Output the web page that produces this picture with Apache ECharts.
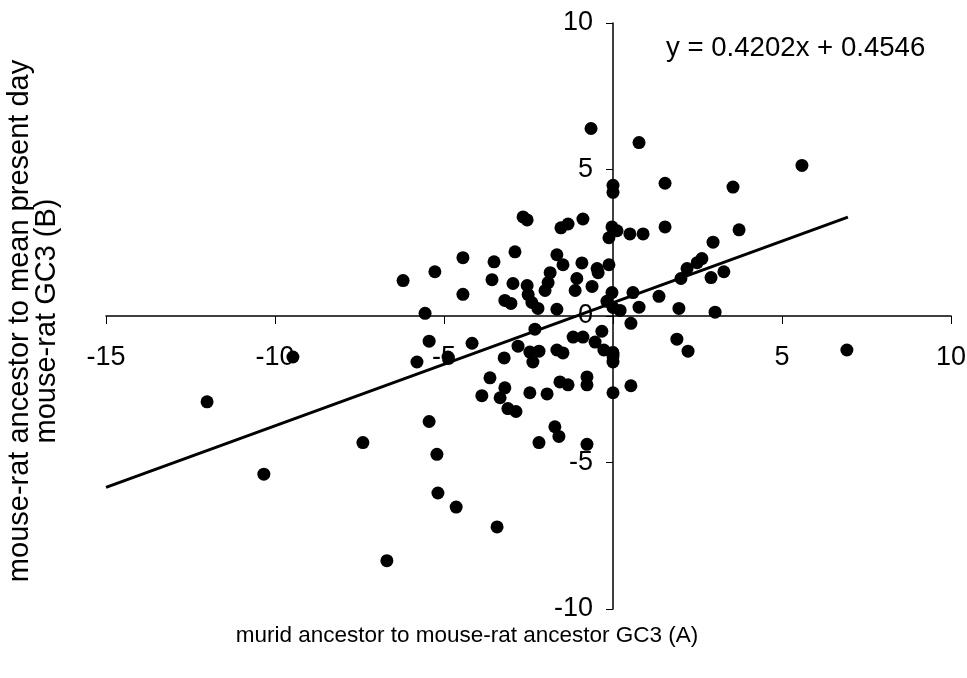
<!DOCTYPE html>
<html><head><meta charset="utf-8">
<script src="https://cdn.jsdelivr.net/npm/echarts@6/dist/echarts.min.js"></script>
<style>html,body{margin:0;padding:0;background:#fff}#c{width:967px;height:678px}</style>
</head><body><div id="c"></div>
<script>
var xVals = [-12.01,-10.33,-9.47,-7.40,-6.69,-6.21,-5.80,-5.56,-5.44,-5.44,-5.27,-5.21,-5.18,-4.88,-4.64,-4.44,-4.44,-4.17,-3.88,-3.64,-3.52,-3.58,-3.43,-3.34,-3.20,-3.20,-3.11,-3.02,-2.87,-2.90,-2.66,-2.54,-2.96,-2.54,-2.51,-2.40,-3.22,-2.81,-2.46,-2.19,-2.37,-2.46,-2.31,-2.22,-2.19,-1.95,-1.72,-1.60,-0.77,-1.66,-1.86,-1.92,-2.01,-1.48,-1.54,-1.33,-0.89,-0.65,-0.92,-0.47,-0.12,-1.07,-1.12,-0.62,-0.44,-1.66,-0.03,-0.18,0.00,0.21,0.59,0.77,1.36,1.95,3.02,0.53,-0.33,1.89,2.22,6.92,-1.18,-0.89,-0.53,-0.27,0.00,0.00,-1.66,-1.48,-0.77,-0.77,-1.57,-1.33,0.00,0.53,-0.03,-0.12,0.12,0.50,0.89,1.54,1.54,0.00,0.00,0.77,3.55,5.59,3.73,2.96,2.63,2.49,2.19,2.01,2.90,3.28];
var yVals = [-2.93,-5.40,-1.40,-4.32,-8.35,1.21,-1.57,0.09,-0.86,-3.60,1.51,-4.72,-6.04,-1.40,-6.52,1.99,0.74,-0.93,-2.72,-2.11,1.85,1.24,-7.20,-2.79,0.53,-2.45,-3.16,0.43,-3.26,2.19,3.38,3.28,1.11,1.04,0.73,0.46,-1.43,-1.03,-1.23,-1.20,-1.57,-2.62,-0.45,0.26,-4.32,-2.66,-3.78,-4.11,-4.38,2.09,1.48,1.14,0.87,1.75,3.01,3.14,3.31,6.40,1.81,1.62,1.75,1.28,0.87,1.01,1.48,0.23,0.80,0.50,0.29,0.19,0.80,0.30,0.67,0.26,0.13,-0.25,-0.52,-0.79,-1.20,-1.16,-0.72,-0.72,-0.89,-1.16,-1.26,-1.57,-1.16,-1.26,-2.08,-2.35,-2.25,-2.35,-2.62,-2.38,3.04,2.67,2.91,2.80,2.80,3.04,4.53,4.46,4.22,5.92,4.40,5.14,2.94,2.52,1.96,1.82,1.62,1.28,1.31,1.51];
var slope = 0.4202, intercept = 0.4546;
var trendX = [-15, 6.95];
var xTitle = 'murid ancestor to mouse-rat ancestor GC3 (A)';
var yTitle = 'mouse-rat ancestor to mean present day\nmouse-rat GC3 (B)';
var eqText = 'y = 0.4202x + 0.4546';

var pts = xVals.map(function(x, i){ return [x, yVals[i]]; });
var trend = trendX.map(function(x){ return [x, slope * x + intercept]; });
var FONT = 'Liberation Sans, Arial, sans-serif';
var G = {left: 106, right: 16, top: 23, bottom: 69};
var W = 967, H = 678;
var plotW = W - G.left - G.right, plotH = H - G.top - G.bottom;
// axes cross at zero: shift each axis from the grid edge to the zero position
var xAxisOffset = -(plotH * (0 - (-10)) / 20);
var yAxisOffset = -(plotW * (0 - (-15)) / 25);
var chart = echarts.init(document.getElementById('c'), null, {renderer: 'canvas'});
chart.setOption({
  animation: false,
  backgroundColor: '#fff',
  grid: {left: G.left, right: G.right, top: G.top, bottom: G.bottom, containLabel: false, outerBoundsMode: 'none'},
  xAxis: {
    type: 'value', min: -15, max: 10, interval: 5, position: 'bottom', offset: xAxisOffset,
    axisLine: {onZero: false, lineStyle: {color: '#000', width: 1.5}},
    axisTick: {show: true, length: 8, lineStyle: {color: '#000'}},
    axisLabel: {color: '#000', fontSize: 27, fontFamily: FONT, margin: 28},
    splitLine: {show: false}
  },
  yAxis: {
    type: 'value', min: -10, max: 10, interval: 5, position: 'left', offset: yAxisOffset,
    axisLine: {onZero: false, lineStyle: {color: '#000', width: 1.5}},
    axisTick: {show: true, length: 7, lineStyle: {color: '#000'}},
    axisLabel: {color: '#000', fontSize: 27, fontFamily: FONT, margin: 20},
    splitLine: {show: false}
  },
  series: [
    {type: 'scatter', data: pts, symbol: 'circle', symbolSize: 13,
     itemStyle: {color: '#000', opacity: 1}, z: 3},
    {type: 'line', data: trend, symbol: 'none', lineStyle: {color: '#000', width: 3}, z: 2}
  ],
  graphic: [
    {type: 'text', x: 666, y: 48,
     style: {text: eqText, fontSize: 27.6, fontFamily: FONT, fill: '#000', verticalAlign: 'middle'}},
    {type: 'text', x: 467, y: 636,
     style: {text: xTitle, fontSize: 22.5, fontFamily: FONT, fill: '#000', align: 'center', verticalAlign: 'middle'}},
    {type: 'text', x: 33, y: 321, rotation: Math.PI / 2,
     style: {text: yTitle, fontSize: 29, lineHeight: 27, fontFamily: FONT, fill: '#000', align: 'center', verticalAlign: 'middle'}}
  ]
});
</script></body></html>
